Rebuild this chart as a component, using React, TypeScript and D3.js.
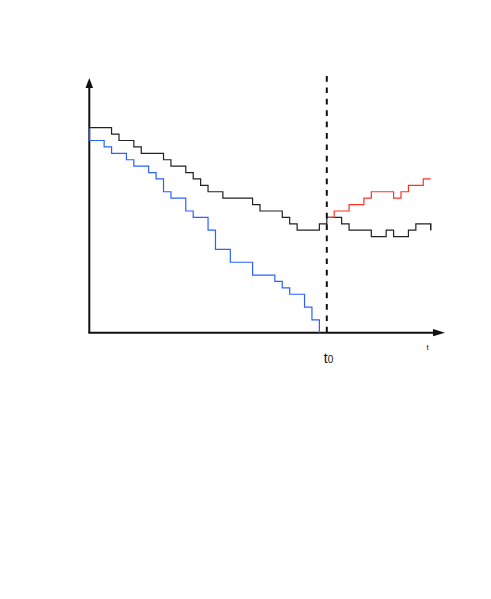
import React, { useEffect, useRef } from 'react'
import * as d3 from 'd3'

// step data: time index where the step starts, and the level from there on
const blackT = [0, 3, 4, 6, 7, 10, 11, 13, 14, 15, 16, 18, 22, 23, 26, 27, 28, 31, 32, 34, 35, 38, 40, 41, 43, 44, 46]
const blackV = [32, 31, 30, 29, 28, 27, 26, 25, 24, 23, 22, 21, 20, 19, 18, 17, 16, 17, 18, 17, 16, 15, 16, 15, 16, 17, 16]

const blueT = [0, 0, 2, 3, 5, 6, 8, 9, 10, 11, 13, 14, 16, 17, 19, 22, 25, 26, 27, 29, 30, 31]
const blueV = [32, 30, 29, 28, 27, 26, 25, 24, 22, 21, 19, 18, 16, 13, 11, 9, 8, 7, 6, 4, 2, 0]

const redT = [32, 33, 35, 37, 38, 41, 42, 43, 45, 46]
const redV = [18, 19, 20, 21, 22, 21, 22, 23, 24, 24]

const t0 = 32
const tMax = 46
const levelMax = 32

export default function App() {
  const ref = useRef<SVGSVGElement>(null)

  useEffect(() => {
    const svg = d3.select(ref.current)
    svg.selectAll('*').remove()

    const x = d3.scaleLinear().domain([0, tMax]).range([89.3, 430.7])
    const y = d3.scaleLinear().domain([0, levelMax]).range([332.7, 127.7])

    const x0 = x(0)
    const yBase = y(0)

    // axes with arrowheads
    svg.append('line')
      .attr('x1', x0).attr('y1', yBase)
      .attr('x2', x0).attr('y2', 84)
      .attr('stroke', '#111').attr('stroke-width', 2)
    svg.append('path')
      .attr('d', `M${x0},78 L${x0 - 3.8},88 L${x0 + 3.8},88 Z`)
      .attr('fill', '#111')

    svg.append('line')
      .attr('x1', x0 - 1).attr('y1', yBase)
      .attr('x2', 436).attr('y2', yBase)
      .attr('stroke', '#111').attr('stroke-width', 2)
    svg.append('path')
      .attr('d', `M445,${yBase} L433,${yBase - 3.6} L433,${yBase + 3.6} Z`)
      .attr('fill', '#111')

    const line = d3.line<[number, number]>()
      .x(d => x(d[0]))
      .y(d => y(d[1]))
      .curve(d3.curveStepAfter)

    const series = [
      { t: blueT, v: blueV, color: '#2a62ff' },
      { t: blackT, v: blackV, color: '#222' },
      { t: redT, v: redV, color: '#ff3322' },
    ]

    series.forEach(s => {
      const pts: [number, number][] = s.t.map((t, i) => [t, s.v[i]])
      svg.append('path')
        .attr('d', line(pts))
        .attr('fill', 'none')
        .attr('stroke', s.color)
        .attr('stroke-width', 1.2)
    })

    // black ends with a short drop at the last step
    svg.append('line')
      .attr('x1', x(tMax)).attr('y1', y(17))
      .attr('x2', x(tMax)).attr('y2', y(16))
      .attr('stroke', '#222').attr('stroke-width', 1.2)

    // t0 marker
    svg.append('line')
      .attr('x1', x(t0)).attr('y1', 76)
      .attr('x2', x(t0)).attr('y2', yBase)
      .attr('stroke', '#111').attr('stroke-width', 2)
      .attr('stroke-dasharray', '5.7,5.7')

    const lbl = svg.append('text')
      .attr('x', x(t0) - 3)
      .attr('y', 362.7)
      .attr('font-family', 'Liberation Sans, Arial, sans-serif')
      .attr('font-size', 14)
      .attr('fill', '#111')
    lbl.append('tspan').text('t')
    lbl.append('tspan').attr('font-size', 10).text('0')

    svg.append('text')
      .attr('x', 426.5)
      .attr('y', 349.5)
      .attr('font-family', 'Liberation Sans, Arial, sans-serif')
      .attr('font-size', 8)
      .attr('fill', '#111')
      .text('t')
  }, [])

  return (
    <svg ref={ref} width={491} height={599}
      style={{ position: 'absolute', left: 0, top: 0, background: '#fff' }} />
  )
}
